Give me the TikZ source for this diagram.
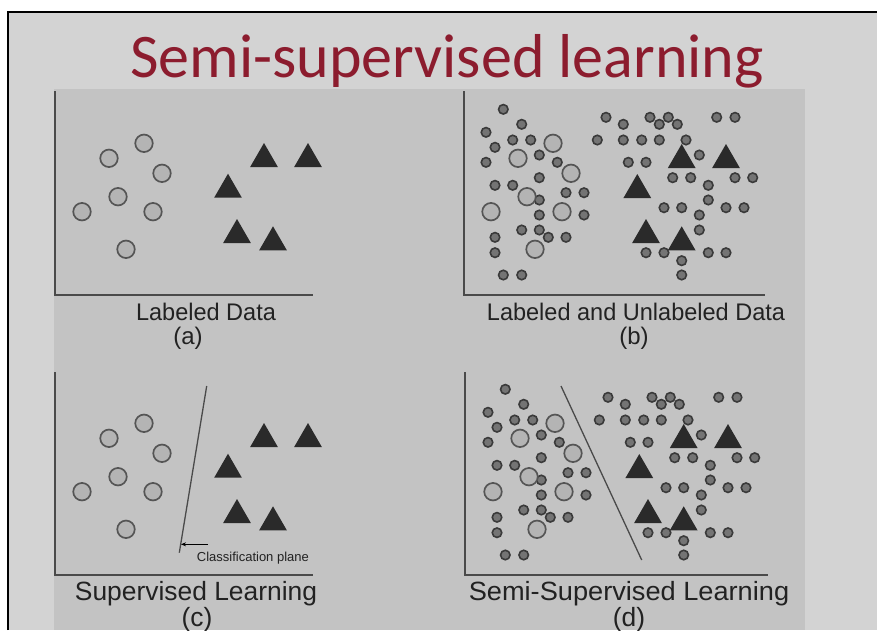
\documentclass[tikz,border=0pt]{standalone}
\usepackage{fontspec}
\setmainfont{Liberation Sans}
\newfontfamily\titlefont{Carlito}
\usetikzlibrary{shapes.geometric,arrows.meta}
\definecolor{slidebg}{HTML}{D3D3D3}
\definecolor{panelbg}{HTML}{C3C3C3}
\definecolor{titlered}{HTML}{8C1C2E}
\definecolor{axiscol}{HTML}{4A4A4A}
\definecolor{bigfill}{HTML}{B4B4B4}
\definecolor{bigdraw}{HTML}{555555}
\definecolor{dotfill}{HTML}{747474}
\definecolor{dotdraw}{HTML}{3A3A3A}
\definecolor{trifill}{HTML}{2A2A2A}
\definecolor{txtcol}{HTML}{222222}
\tikzset{
  labc/.style={circle, fill=bigfill, draw=bigdraw, line width=1.7pt, minimum size=17.5pt, inner sep=0pt},
  unlc/.style={circle, fill=dotfill, draw=dotdraw, line width=1.6pt, minimum size=9.5pt, inner sep=0pt},
  tri/.style={regular polygon, regular polygon sides=3, fill=trifill, minimum size=32pt, inner sep=0pt},
  axis/.style={draw=axiscol, line width=2pt},
  caprow/.style={text=txtcol, anchor=base, font=\fontsize{24}{24}\selectfont},
  capbig/.style={text=txtcol, anchor=base, font=\fontsize{26.4}{26.4}\selectfont},
}
\def\labcircles{89/143.3, 54/158.3, 107/173.3, 63/196.7, 27/211.7, 98/211.7, 71/249.3}
\def\triA{209/159, 253/159, 173/189.7, 182/235, 218/242.3}
\def\triB{217.7/160, 262/160, 173.3/190, 182/235, 217.7/242.3}
\def\unldots{39.3/109.3, 57.7/124.3, 22/132.3, 48.7/140, 66.7/140, 31/147.3, 75.3/155, 22/162.3, 93.3/162.3, 75.3/177.7, 31/185.3, 48.7/185.3, 75.3/200, 102/192.7, 120/192.7, 75.3/215, 120/215, 57.7/230, 75.3/230, 84.3/237.3, 102/237.3, 31/237.3, 31/252.7, 39.3/275, 57.7/275, 142/117.3, 186/117.3, 204.3/117.3, 159.3/124.3, 195.3/124.3, 213.3/124.3, 252.7/117.3, 271/117.3, 133.3/140, 159.3/140, 177.7/140, 195.3/140, 222/140, 235.3/155, 164.3/162.3, 182/162.3, 208.7/177.7, 226.7/177.7, 271/177.7, 288.7/177.7, 244.3/185.3, 244.3/200, 200/207.7, 217.7/207.7, 262/207.7, 280/207.7, 235.3/215, 235.3/230, 182/252.7, 200/252.7, 244.3/252.7, 262/252.7, 217.7/260.7, 217.7/275}
\begin{document}
\begin{tikzpicture}[x=1pt,y=-1pt]
\useasboundingbox (0,0) rectangle (877,630);
\fill[white] (0,0) rectangle (877,630);
\fill[slidebg] (8,12) rectangle (877,630);
\fill[panelbg] (54,89) rectangle (805,630);
\draw[black, line width=2.2pt] (8,630) -- (8,12) -- (877,12);
% title
\node[text=titlered, anchor=base, font=\titlefont\fontsize{62}{62}\selectfont, inner sep=0pt] (title) at (447,77) {Semi-supervised learning};
% ---------- panel (a)
\begin{scope}[shift={(55,0)}]
  \foreach \x/\y [count=\i] in \labcircles { \node[labc] (ac\i) at (\x,\y) {}; }
  \foreach \x/\y [count=\i] in \triA { \node[tri] (at\i) at (\x,\y) {}; }
\end{scope}
\coordinate (aTop) at (55,91); \coordinate (aO) at (55,295); \coordinate (aR) at (313,295);
\draw[axis] (aTop) -- (aO) -- (aR);
\node[caprow, xscale=0.98] (alab) at (206,320) {Labeled Data};
\node[caprow] (aid) at (188,344) {(a)};
% ---------- panel (b)
\begin{scope}[shift={(464,0)}]
  \foreach \x/\y [count=\i] in \unldots { \node[unlc] (bu\i) at (\x,\y) {}; }
  \foreach \x/\y [count=\i] in \labcircles { \node[labc] (bc\i) at (\x,\y) {}; }
  \foreach \x/\y [count=\i] in \triB { \node[tri] (bt\i) at (\x,\y) {}; }
\end{scope}
\coordinate (bTop) at (464,91); \coordinate (bO) at (464,295); \coordinate (bR) at (765,295);
\draw[axis] (bTop) -- (bO) -- (bR);
\node[caprow, xscale=0.98] (blab) at (636,320) {Labeled and Unlabeled Data};
\node[caprow] (bid) at (634,344) {(b)};
% ---------- panel (c)
\begin{scope}[shift={(55,280)}]
  \foreach \x/\y [count=\i] in \labcircles { \node[labc] (cc\i) at (\x,\y) {}; }
  \foreach \x/\y [count=\i] in \triA { \node[tri] (ct\i) at (\x,\y) {}; }
\end{scope}
\coordinate (cTop) at (55,372); \coordinate (cO) at (55,575); \coordinate (cR) at (313,575);
\draw[axis] (cTop) -- (cO) -- (cR);
\coordinate (cp1) at (206.7,386); \coordinate (cp2) at (179.3,552.7);
\draw[draw=axiscol, line width=1.3pt] (cp1) -- (cp2);
\coordinate (arrS) at (208,544.3); \coordinate (arrE) at (181,544.3);
\draw[draw=black, line width=1pt, -{Stealth[length=5pt,width=4pt]}] (arrS) -- (arrE);
\node[text=txtcol, anchor=base west, inner sep=0pt, font=\fontsize{13}{13}\selectfont] (cplane) at (196.7,561) {Classification plane};
\node[capbig] (clab) at (196,600) {Supervised Learning};
\node[capbig] (cid) at (197,626) {(c)};
% ---------- panel (d)
\begin{scope}[shift={(466,280)}]
  \foreach \x/\y [count=\i] in \unldots { \node[unlc] (du\i) at (\x,\y) {}; }
  \foreach \x/\y [count=\i] in \labcircles { \node[labc] (dc\i) at (\x,\y) {}; }
  \foreach \x/\y [count=\i] in \triB { \node[tri] (dt\i) at (\x,\y) {}; }
\end{scope}
\coordinate (dTop) at (465,372); \coordinate (dO) at (465,575); \coordinate (dR) at (768,575);
\draw[axis] (dTop) -- (dO) -- (dR);
\coordinate (dp1) at (561,386); \coordinate (dp2) at (641.7,560);
\draw[draw=axiscol, line width=1.3pt] (dp1) -- (dp2);
\node[capbig, xscale=1.03] (dlab) at (629,600) {Semi-Supervised Learning};
\node[capbig] (did) at (629,626) {(d)};
\end{tikzpicture}
\end{document}
